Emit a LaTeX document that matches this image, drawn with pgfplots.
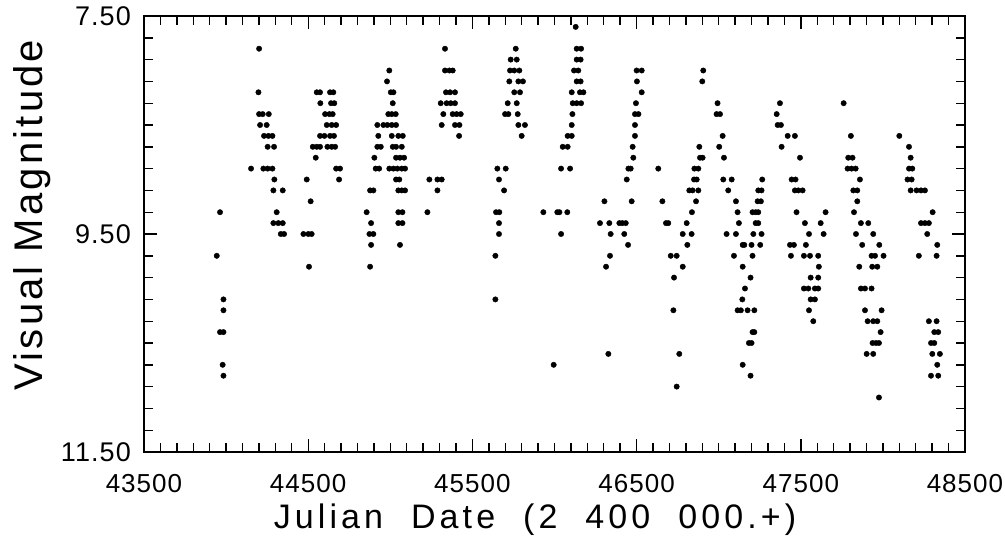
\documentclass[border=0pt]{standalone}
\usepackage{fontspec}
\setmainfont{Liberation Sans}
\usepackage{pgfplots}
\pgfplotsset{compat=1.18}
\begin{document}
\begin{tikzpicture}
\useasboundingbox (0,0) rectangle (1005bp,541bp);
\begin{axis}[
  at={(144bp,89bp)}, anchor=south west,
  width=821bp, height=436bp, scale only axis,
  xmin=43500, xmax=48500, ymin=7.5, ymax=11.5, y dir=reverse,
  xtick={43500,44500,45500,46500,47500,48500},
  ytick={7.5,9.5,11.5},
  scaled x ticks=false, scaled y ticks=false,
  minor x tick num=9, minor y tick num=9,
  tick align=inside, xtick pos=both, ytick pos=both,
  major tick length=13bp, minor tick length=9bp,
  every tick/.style={black, line width=1.4bp},
  axis line style={line width=2bp},
  /pgf/number format/assume math mode=true,
  x tick label style={/pgf/number format/1000 sep={}, font=\fontsize{26bp}{26bp}\selectfont\addfontfeature{LetterSpace=4}, anchor=base, yshift=-40bp},
  y tick label style={/pgf/number format/fixed, /pgf/number format/fixed zerofill, /pgf/number format/precision=2, font=\fontsize{27bp}{27bp}\selectfont\addfontfeature{LetterSpace=4}, anchor=east, inner sep=0pt, xshift=-13bp},
  xlabel={Julian\hspace{28bp}Date\hspace{28bp}(2\hspace{28bp}400\hspace{28bp}000.+)},
  xlabel style={font=\fontsize{34bp}{34bp}\selectfont\addfontfeature{LetterSpace=12}, at={(axis description cs:0.4763,-0.1743)}, anchor=base},
  ylabel={Visual\hspace{14bp}Magnitude},
  ylabel style={font=\fontsize{40bp}{40bp}\selectfont\addfontfeature{LetterSpace=8}, at={(axis description cs:-0.1242,0.5436)}, anchor=base, rotate=0},
]
\addplot[only marks, mark=*, mark size=2.7bp, black] coordinates {
(44201,7.8) (44197,8.2) (44201,8.4) (44223,8.4) (44260,8.4) (44207,8.5) (44247,8.5)
(44231,8.6) (44258,8.6) (44282,8.6) (44253,8.7) (44292,8.7) (44152,8.9) (44227,8.9)
(44253,8.9) (44282,8.9) (44294,9.0) (44288,9.1) (44345,9.1)
(44552,8.2) (44572,8.2) (44633,8.2) (44653,8.2) (44574,8.3) (44639,8.3) (44659,8.3)
(44603,8.4) (44629,8.4) (44649,8.4) (44613,8.5) (44643,8.5) (44670,8.5)
(44572,8.6) (44599,8.6) (44633,8.6) (44657,8.6) (44528,8.7) (44552,8.7) (44572,8.7)
(44617,8.7) (44643,8.7) (44664,8.7) (44546,8.8) (44670,8.9) (44694,8.9) (44491,9.0)
(44688,9.0) (44515,9.2)
(44994,8.0) (44980,8.1) (45003,8.2) (45019,8.2) (45015,8.3) (44988,8.4) (45009,8.4)
(45033,8.4) (44921,8.5) (44958,8.5) (44982,8.5) (45009,8.5) (45035,8.5) (44927,8.6)
(45009,8.6) (45049,8.6) (45076,8.6) (44921,8.7) (44942,8.7) (45015,8.7) (45035,8.7)
(45070,8.7) (44903,8.8) (45035,8.8) (45059,8.8) (45084,8.8) (44911,8.9) (44932,8.9)
(44994,8.9) (45019,8.9) (45043,8.9) (45070,8.9) (45090,8.9) (45035,9.0) (45055,9.0)
(44877,9.1) (44897,9.1) (45049,9.1) (45070,9.1) (45090,9.1) (45238,9.0)
(43963,9.3) (44308,9.3) (44856,9.3) (45049,9.3) (45074,9.3) (45226,9.3)
(44288,9.4) (44318,9.4) (44345,9.4) (44883,9.4) (45049,9.4) (45074,9.4)
(44333,9.5) (44353,9.5) (44471,9.5) (44501,9.5) (44521,9.5) (44873,9.5) (44897,9.5)
(44883,9.6) (45059,9.6) (43943,9.7) (44505,9.8) (44877,9.8) (43984,10.1) (43984,10.2)
(43963,10.4) (43984,10.4) (43979,10.7) (43984,10.8)
(45333,7.8) (45333,8.0) (45360,8.0) (45380,8.0) (45339,8.2) (45364,8.2) (45394,8.2)
(45307,8.3) (45343,8.3) (45368,8.3) (45394,8.3) (45323,8.4) (45380,8.4) (45404,8.4)
(45429,8.4) (45313,8.5) (45394,8.5) (45421,8.5) (45419,8.6) (45287,9.0) (45313,9.0)
(45287,9.1)
(45764,7.8) (45733,7.9) (45770,7.9) (45729,8.0) (45755,8.0) (45786,8.0) (45725,8.1)
(45780,8.1) (45808,8.1) (45755,8.2) (45790,8.2) (45715,8.3) (45770,8.3) (45699,8.4)
(45719,8.4) (45776,8.4) (45780,8.5) (45820,8.5) (45800,8.6) (45652,8.9) (45703,8.9)
(45662,9.0) (45693,9.1)
(46129,7.6) (46135,7.8) (46162,7.8) (46135,7.9) (46159,7.9) (46119,8.0) (46145,8.0)
(46135,8.1) (46159,8.1) (46105,8.2) (46155,8.2) (46176,8.2) (46111,8.3) (46135,8.3)
(46162,8.3) (46109,8.4) (46105,8.5) (46080,8.6) (46105,8.6) (46050,8.7) (46080,8.7)
(46040,8.9) (46095,8.9)
(46500,8.0) (46531,8.0) (46502,8.1) (46531,8.2) (46496,8.3) (46490,8.4) (46511,8.4)
(46490,8.5) (46490,8.6) (46476,8.7) (46480,8.8) (46450,8.9) (46464,8.9) (46632,8.9)
(46440,9.0) (46304,9.2) (46470,9.2) (46657,9.2)
(46906,8.0) (46900,8.1) (46882,8.7) (46886,8.8) (46902,8.8) (46852,8.9) (46876,8.9)
(46850,9.0) (46866,9.0) (46821,9.1) (46841,9.1) (46876,9.1) (46862,9.2)
(45644,9.3) (45664,9.3) (45932,9.3) (46017,9.3) (46030,9.3) (46078,9.3) (46837,9.3)
(45662,9.4) (46277,9.4) (46334,9.4) (46395,9.4) (46413,9.4) (46434,9.4) (46679,9.4)
(46693,9.4) (46805,9.4) (45662,9.5) (46040,9.5) (46342,9.5) (46425,9.5) (46781,9.5)
(46835,9.5) (46448,9.6) (46809,9.6) (45640,9.7) (46338,9.7) (46708,9.7) (46744,9.7)
(46314,9.8) (46781,9.8) (46728,9.9) (45640,10.1) (46724,10.2) (46328,10.6) (46760,10.6)
(45995,10.7) (46744,10.9)
(46993,8.3) (46987,8.4) (47008,8.4) (47024,8.6) (47003,8.7) (47032,8.8) (47028,9.0)
(47079,9.0) (47058,9.1) (47105,9.2)
(47265,9.0) (47241,9.1) (47261,9.1) (47237,9.2) (47257,9.2)
(47373,8.3) (47353,8.4) (47359,8.5) (47379,8.5) (47420,8.6) (47464,8.6) (47383,8.7)
(47495,8.8) (47444,9.0) (47468,9.0) (47464,9.1) (47485,9.1) (47511,9.1)
(47761,8.3) (47805,8.6) (47789,8.8) (47815,8.8) (47785,8.9) (47809,8.9) (47834,8.9)
(47860,9.0) (47820,9.1) (47844,9.1) (47844,9.2)
(48100,8.6) (48159,8.7) (48169,8.8) (48159,8.9) (48179,8.9) (48150,9.0) (48175,9.0)
(48169,9.1) (48205,9.1) (48232,9.1) (48256,9.1)
(47115,9.3) (47206,9.3) (47225,9.3) (47241,9.3) (47474,9.3) (47651,9.3) (47824,9.3) (48303,9.3)
(47123,9.4) (47225,9.4) (47241,9.4) (47525,9.4) (47621,9.4) (47866,9.4) (47911,9.4)
(48232,9.4) (48256,9.4) (48280,9.4)
(47048,9.5) (47105,9.5) (47211,9.5) (47261,9.5) (47550,9.5) (47639,9.5) (47836,9.5)
(47941,9.5) (48270,9.5)
(47146,9.6) (47156,9.6) (47200,9.6) (47253,9.6) (47434,9.6) (47458,9.6) (47531,9.6)
(47874,9.6) (47978,9.6) (48331,9.6)
(47093,9.7) (47206,9.7) (47440,9.7) (47519,9.7) (47556,9.7) (47606,9.7) (47931,9.7)
(47952,9.7) (48004,9.7) (48219,9.7) (48327,9.7)
(47146,9.8) (47610,9.8) (47856,9.8) (47935,9.8) (47966,9.8)
(47194,9.9) (47560,9.9) (47606,9.9)
(47160,10.0) (47519,10.0) (47546,10.0) (47586,10.0) (47606,10.0) (47866,10.0) (47891,10.0) (47931,10.0)
(47144,10.1) (47560,10.1) (47586,10.1)
(47115,10.2) (47135,10.2) (47176,10.2) (47217,10.2) (47550,10.2) (47891,10.2) (47992,10.2)
(47576,10.3) (47907,10.3) (47941,10.3) (47966,10.3) (48280,10.3) (48327,10.3)
(47206,10.4) (47217,10.4) (47986,10.4) (48313,10.4) (48337,10.4)
(47184,10.5) (47200,10.5) (47937,10.5) (47958,10.5) (47976,10.5) (48293,10.5) (48313,10.5)
(47901,10.6) (47941,10.6) (48301,10.6) (48347,10.6)
(47146,10.7) (48331,10.7) (47194,10.8) (48293,10.8) (48337,10.8) (47976,11.0)
};
\end{axis}
\end{tikzpicture}
\end{document}
